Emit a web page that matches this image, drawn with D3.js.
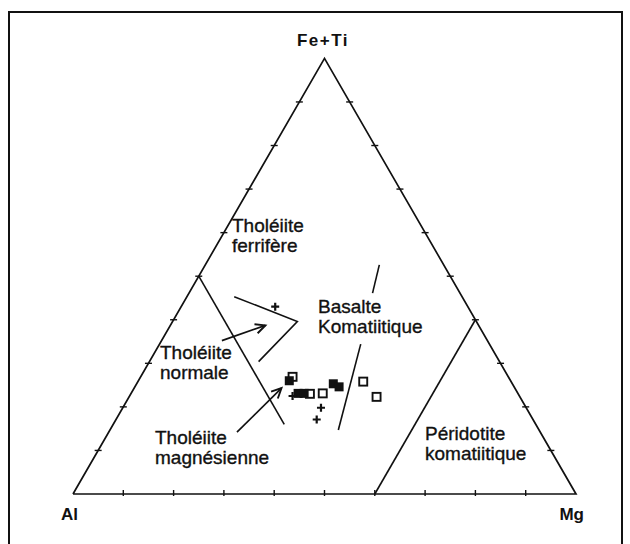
<!DOCTYPE html>
<html>
<head>
<meta charset="utf-8">
<script src="https://cdn.jsdelivr.net/npm/d3@7/dist/d3.min.js"></script>
<style>
  html, body { margin: 0; padding: 0; background: #fff; }
  svg text { font-family: "Liberation Sans", Arial, Helvetica, sans-serif; fill: #111; }
</style>
</head>
<body>
<svg id="chart" width="630" height="544"></svg>
<script>
// Jensen cation plot: compositions as [Al, Fe+Ti, Mg] percentages
const apexNames = ["Al", "Fe+Ti", "Mg"];
const tickValues = [10, 20, 30, 40, 50, 60, 70, 80, 90];

// Field boundaries (polylines)
const boundaryAl50 = [[50, 50, 0], [50, 16, 34]];
const boundaryKomBasaltUpper = [[12.8, 52.6, 34.6], [17.4, 46.1, 36.5]];
const boundaryKomBasaltLower = [[25.6, 34.4, 40.0], [39.9, 14.7, 45.4]];
const boundaryPeridotite = [[40, 0, 60], [0, 40, 60]];
const chevron = [[45.3, 45.3, 9.4], [35.6, 39.6, 24.8], [47.9, 30.4, 21.7]];

// Pointer arrows from labels to fields
const arrowNormale = [[52.8, 35.2, 12.0], [42.4, 38.7, 18.9]];
const arrowMagnesienne = [[60.3, 14.2, 25.5], [46.4, 24.3, 29.3]];

// Samples
const filledSquares = [[44.0, 26.0, 30.0], [43.7, 23.1, 33.2], [42.5, 23.1, 34.4], [35.6, 25.3, 39.1], [34.8, 24.6, 40.6]];
const openSquares = [[42.9, 26.9, 30.2], [41.4, 23.0, 35.6], [38.8, 23.1, 38.1], [29.4, 25.8, 44.8], [28.5, 22.3, 49.2]];
const crosses = [[38.3, 43.0, 18.7], [45.1, 22.5, 32.4], [40.8, 19.8, 39.4], [43.0, 17.1, 39.9]];

const fieldLabels = [
  ["Tholéiite", "ferrifère"],
  ["Basalte", "Komatiitique"],
  ["Tholéiite", "normale"],
  ["Tholéiite", "magnésienne"],
  ["Péridotite", "komatiitique"]
];

const svg = d3.select("#chart");
const ink = "#111";

// Ternary projection: horizontal position from Mg + FeTi/2, vertical from FeTi
const xs = d3.scaleLinear().domain([0, 100]).range([73, 576]);
const ys = d3.scaleLinear().domain([0, 100]).range([494, 58.4]);
const proj = d => [xs(d[2] + d[1] / 2), ys(d[1])];
const line = d3.line().x(d => proj(d)[0]).y(d => proj(d)[1]);

// frame
svg.append("rect").attr("x", 9).attr("y", 12).attr("width", 613).attr("height", 560)
  .attr("fill", "none").attr("stroke", ink).attr("stroke-width", 2);

// outer triangle
const corners = [[100, 0, 0], [0, 100, 0], [0, 0, 100]];
svg.append("path").attr("d", line(corners.concat([corners[0]])))
  .attr("fill", "none").attr("stroke", ink).attr("stroke-width", 1.7).attr("stroke-linejoin", "miter");

// side ticks
const tk = svg.append("g").attr("stroke", ink).attr("stroke-width", 1.4);
tickValues.forEach(v => {
  const b = proj([100 - v, 0, v]);
  tk.append("line").attr("x1", b[0]).attr("x2", b[0]).attr("y1", b[1] - 4).attr("y2", b[1] + 2);
  const l = proj([100 - v, v, 0]);
  tk.append("line").attr("x1", l[0] - 3.5).attr("x2", l[0] + 3.5).attr("y1", l[1]).attr("y2", l[1]);
  const r = proj([0, v, 100 - v]);
  tk.append("line").attr("x1", r[0] - 3.5).attr("x2", r[0] + 3.5).attr("y1", r[1]).attr("y2", r[1]);
});

// field boundaries
[boundaryAl50, boundaryKomBasaltUpper, boundaryKomBasaltLower, boundaryPeridotite, chevron].forEach(p => {
  svg.append("path").attr("d", line(p)).attr("fill", "none")
    .attr("stroke", ink).attr("stroke-width", 1.6);
});

// arrows with open heads
[arrowNormale, arrowMagnesienne].forEach(p => {
  const a = proj(p[0]), b = proj(p[1]);
  svg.append("line").attr("x1", a[0]).attr("y1", a[1]).attr("x2", b[0]).attr("y2", b[1])
    .attr("stroke", ink).attr("stroke-width", 1.7);
  const ang = Math.atan2(b[1] - a[1], b[0] - a[0]);
  const len = 11, spread = 0.45;
  const p1 = [b[0] - len * Math.cos(ang - spread), b[1] - len * Math.sin(ang - spread)];
  const p2 = [b[0] - len * Math.cos(ang + spread), b[1] - len * Math.sin(ang + spread)];
  svg.append("path").attr("d", `M${p1[0]},${p1[1]}L${b[0]},${b[1]}L${p2[0]},${p2[1]}`)
    .attr("fill", "none").attr("stroke", ink).attr("stroke-width", 1.9);
});

// samples
const sq = 8;
svg.append("g").selectAll("rect").data(openSquares).join("rect")
  .attr("x", d => proj(d)[0] - sq / 2).attr("y", d => proj(d)[1] - sq / 2)
  .attr("width", sq).attr("height", sq)
  .attr("fill", "#fff").attr("stroke", ink).attr("stroke-width", 1.9);
svg.append("g").selectAll("rect").data(filledSquares).join("rect")
  .attr("x", d => proj(d)[0] - 4.5).attr("y", d => proj(d)[1] - 4.5)
  .attr("width", 9).attr("height", 9).attr("fill", ink);
svg.append("g").selectAll("path").data(crosses).join("path")
  .attr("d", d => { const [x, y] = proj(d); return `M${x - 4},${y}H${x + 4}M${x},${y - 4}V${y + 4}`; })
  .attr("stroke", ink).attr("stroke-width", 2.2).attr("fill", "none");

// apex labels
const apexPos = [
  { x: 61, y: 520, anchor: "start" },
  { x: 323, y: 46, anchor: "middle" },
  { x: 584, y: 520, anchor: "end" }
];
apexNames.forEach((n, i) => {
  svg.append("text").attr("x", apexPos[i].x).attr("y", apexPos[i].y)
    .attr("text-anchor", apexPos[i].anchor)
    .attr("font-size", 17).attr("font-weight", "bold")
    .attr("letter-spacing", i === 1 ? 1.5 : 0)
    .text(n);
});

// field labels
const labelPos = [
  { x: 232, y: 232 },
  { x: 318, y: 313 },
  { x: 160, y: 359 },
  { x: 155, y: 444 },
  { x: 425, y: 440 }
];
fieldLabels.forEach((lines, i) => {
  const t = svg.append("text").attr("x", labelPos[i].x).attr("y", labelPos[i].y)
    .attr("font-size", 19).attr("stroke", ink).attr("stroke-width", 0.35);
  lines.forEach((s, j) => {
    t.append("tspan").attr("x", labelPos[i].x).attr("dy", j === 0 ? 0 : 20).text(s);
  });
});
</script>
</body>
</html>
